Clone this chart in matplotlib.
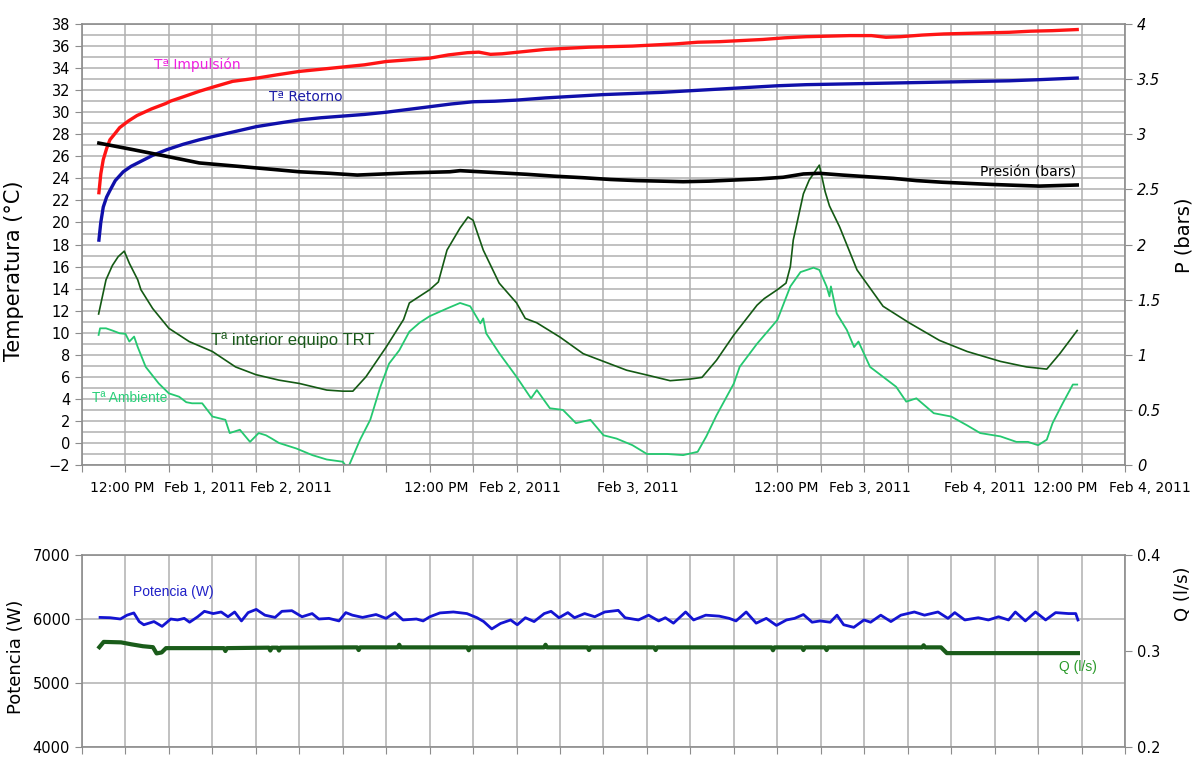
import matplotlib
matplotlib.use("Agg")
import matplotlib.pyplot as plt
import numpy as np

# hours from the start of the time axis (axis spans 72 h, grid every 3 h)
imp_h = [1.17, 1.3, 1.47, 1.7, 1.93, 2.3, 2.6, 3.2, 3.8, 4.8, 5.8, 6.1, 7.0, 8.1, 9.1, 10.4,
         12.1, 13.5, 15.0, 16.5, 18.0, 19.5, 21.0, 22.5, 24.0, 25.3, 26.6, 27.4, 28.2, 29.0,
         30.5, 32.0, 33.5, 35.0, 36.5, 38.0, 39.5, 41.0, 42.5, 44.0, 45.5, 47.0, 48.5, 50.0,
         51.5, 53.0, 54.5, 55.5, 56.5, 58.0, 59.5, 61.0, 62.5, 64.0, 65.5, 67.0, 68.7]
imp_t = [22.7, 24.4, 25.7, 26.7, 27.5, 28.1, 28.6, 29.2, 29.7, 30.3, 30.8, 31.0, 31.4, 31.9,
         32.3, 32.8, 33.1, 33.4, 33.7, 33.9, 34.1, 34.3, 34.6, 34.75, 34.9, 35.2, 35.4, 35.45,
         35.25, 35.3, 35.5, 35.7, 35.8, 35.9, 35.95, 36.0, 36.1, 36.2, 36.35, 36.4, 36.5, 36.6,
         36.75, 36.85, 36.9, 36.95, 36.95, 36.8, 36.85, 37.0, 37.1, 37.15, 37.2, 37.25, 37.35,
         37.4, 37.5]

ret_h = [1.17, 1.3, 1.47, 1.7, 1.93, 2.3, 2.85, 3.4, 4.0, 4.9, 5.85, 7.0, 8.1, 9.06, 10.4,
         12.06, 13.5, 15.0, 16.5, 18.0, 19.5, 21.0, 22.5, 24.0, 25.5, 27.0, 28.5, 30.0, 32.0,
         34.0, 36.0, 38.0, 40.0, 42.0, 44.0, 46.0, 48.0, 50.0, 52.0, 54.0, 56.0, 58.0, 60.0,
         62.0, 64.0, 66.0, 68.7]
ret_t = [18.4, 20.0, 21.4, 22.3, 22.9, 23.8, 24.6, 25.1, 25.5, 26.1, 26.6, 27.1, 27.5, 27.8,
         28.2, 28.7, 29.0, 29.3, 29.5, 29.65, 29.8, 30.0, 30.25, 30.5, 30.75, 30.95, 31.0, 31.1,
         31.3, 31.45, 31.6, 31.7, 31.8, 31.95, 32.1, 32.25, 32.4, 32.5, 32.55, 32.6, 32.65, 32.7,
         32.75, 32.8, 32.85, 32.95, 33.1]

pres_h = [1.17, 3.55, 5.85, 8.1, 11.6, 15.0, 17.1, 19.0, 20.8, 22.6, 24.0, 25.4, 26.1, 28.2,
          30.7, 32.6, 34.6, 36.5, 38.3, 40.0, 41.5, 43.3, 45.0, 46.7, 48.4, 49.8, 50.9, 52.5,
          54.2, 56.0, 57.6, 59.4, 61.1, 62.8, 64.5, 66.1, 67.4, 68.7]
pres_bar = [2.92, 2.86, 2.80, 2.74, 2.70, 2.66, 2.646, 2.63, 2.64, 2.65, 2.655, 2.66, 2.67,
            2.655, 2.637, 2.62, 2.606, 2.59, 2.58, 2.575, 2.57, 2.575, 2.585, 2.595, 2.61,
            2.64, 2.646, 2.63, 2.615, 2.60, 2.58, 2.565, 2.555, 2.545, 2.537, 2.53, 2.535, 2.54]

int_h = [1.15, 1.66, 2.1, 2.5, 2.92, 3.27, 3.85, 4.07, 4.88, 6.0, 7.4, 9.0, 10.6, 12.0, 13.6,
         15.0, 16.9, 18.0, 18.7, 19.6, 21.0, 22.2, 22.6, 24.0, 24.6, 25.2, 26.1, 26.65, 27.0,
         27.7, 28.8, 30.0, 30.6, 31.4, 33.0, 34.6, 36.0, 37.6, 39.2, 40.6, 42.0, 42.8, 43.8,
         45.0, 46.6, 47.1, 48.0, 48.6, 48.9, 49.1, 49.8, 50.2, 50.9, 51.3, 51.6, 52.3, 53.5,
         55.3, 57.1, 59.2, 61.1, 63.4, 65.2, 66.6, 67.5, 68.7]
int_t = [11.7, 14.8, 16.1, 16.9, 17.4, 16.3, 14.8, 13.9, 12.2, 10.4, 9.2, 8.3, 6.9, 6.2, 5.7,
         5.4, 4.8, 4.7, 4.7, 6.0, 8.7, 11.2, 12.7, 13.9, 14.6, 17.5, 19.5, 20.5, 20.2, 17.5,
         14.5, 12.7, 11.3, 10.9, 9.6, 8.1, 7.4, 6.6, 6.1, 5.65, 5.8, 5.95, 7.5, 9.8, 12.5, 13.1,
         13.9, 14.5, 16.0, 18.4, 22.6, 23.85, 25.2, 22.8, 21.5, 19.6, 15.7, 12.4, 10.9, 9.3,
         8.3, 7.4, 6.9, 6.7, 8.1, 10.2]

amb_h = [1.15, 1.25, 1.66, 2.1, 2.6, 3.0, 3.27, 3.6, 3.85, 4.4, 5.3, 6.0, 6.7, 7.2, 7.6, 8.3,
         9.0, 9.9, 10.2, 10.9, 11.6, 12.2, 12.7, 13.1, 13.6, 14.8, 15.9, 16.9, 18.0, 18.35,
         19.2, 19.9, 20.6, 21.2, 21.9, 22.6, 23.3, 24.0, 25.2, 26.1, 26.8, 27.5, 27.7, 27.9,
         28.8, 30.0, 31.0, 31.4, 32.3, 33.2, 34.1, 35.1, 36.0, 36.9, 38.0, 39.0, 40.4, 41.5,
         42.5, 43.1, 43.8, 45.0, 45.4, 46.6, 48.0, 48.9, 49.6, 50.5, 50.9, 51.4, 51.6, 51.7,
         52.1, 52.8, 53.3, 53.6, 54.4, 55.3, 56.2, 56.9, 57.6, 58.8, 60.0, 61.1, 62.0, 63.4,
         64.5, 65.3, 66.0, 66.6, 67.0, 67.7, 68.4, 68.7]
amb_t = [9.8, 10.4, 10.4, 10.2, 9.95, 9.9, 9.2, 9.65, 8.7, 6.9, 5.4, 4.5, 4.2, 3.7, 3.6, 3.6,
         2.4, 2.1, 0.9, 1.2, 0.1, 0.9, 0.7, 0.4, 0.0, -0.5, -1.1, -1.5, -1.7, -2.3,
         0.3, 2.1, 5.1, 7.2, 8.4, 10.1, 10.9, 11.5, 12.2, 12.7, 12.4, 10.85, 11.3, 9.95,
         8.15, 6.0, 4.05, 4.8, 3.15, 3.0, 1.8, 2.1, 0.7, 0.4, -0.2, -1.0, -1.0, -1.1,
         -0.8, 0.6, 2.5, 5.4, 6.9, 9.0, 11.15, 14.2, 15.5, 15.9, 15.7, 14.2, 13.3, 14.2,
         11.75, 10.25, 8.7, 9.2, 6.9, 6.0, 5.1, 3.75, 4.05, 2.7, 2.4, 1.6, 0.9, 0.6,
         0.1, 0.1, -0.2, 0.3, 1.8, 3.6, 5.3, 5.3]

pot_h = [1.25, 1.95, 2.65, 3.11, 3.58, 3.95, 4.27, 4.97, 5.53, 6.13, 6.60, 7.06, 7.43, 7.99,
         8.45, 9.06, 9.61, 10.08, 10.54, 11.01, 11.47, 12.03, 12.63, 13.33, 13.80, 14.49,
         15.19, 15.89, 16.35, 17.05, 17.74, 18.21, 18.67, 19.37, 20.30, 20.99, 21.60, 22.16,
         23.09, 23.55, 24.01, 24.71, 25.64, 26.57, 27.27, 27.73, 28.29, 28.89, 29.59, 30.05,
         30.61, 31.21, 31.91, 32.38, 32.93, 33.54, 34.00, 34.70, 35.40, 36.09, 37.02, 37.49,
         38.41, 39.11, 39.81, 40.27, 40.83, 41.67, 42.22, 43.06, 43.99, 44.68, 45.15, 45.85,
         46.54, 47.24, 47.94, 48.63, 49.19, 49.80, 50.40, 50.96, 51.65, 52.12, 52.58, 53.28,
         53.98, 54.44, 55.14, 55.84, 56.53, 57.46, 58.16, 59.09, 59.78, 60.25, 60.94, 61.87,
         62.57, 63.27, 63.96, 64.43, 65.12, 65.82, 66.52, 67.21, 68.10, 68.60, 68.75]
pot_w = [6025, 6020, 6000, 6060, 6095, 5960, 5910, 5960, 5885, 6000, 5985, 6010, 5950, 6035,
         6120, 6085, 6110, 6035, 6110, 5970, 6100, 6150, 6060, 6025, 6120, 6130,
         6035, 6085, 6000, 6010, 5970, 6100, 6060, 6025, 6070, 6010, 6100, 5985,
         6000, 5970, 6035, 6095, 6110, 6085, 6020, 5960, 5845, 5930, 5985, 5910,
         6020, 5960, 6085, 6120, 6020, 6100, 6020, 6085, 6035, 6110, 6135, 6020,
         5985, 6060, 5970, 6020, 5935, 6110, 5985, 6060, 6045, 6010, 5970, 6110,
         5935, 6010, 5900, 5985, 6010, 6070, 5950, 5970, 5950, 6060, 5910, 5870,
         5985, 5950, 6060, 5960, 6060, 6110, 6060, 6110, 6010, 6100, 5985, 6020,
         5985, 6035, 5985, 6110, 5970, 6110, 5985, 6100, 6085, 6085, 5985]

q_h = [1.2, 1.5, 2.7, 3.4, 4.2, 4.9, 5.15, 5.5, 5.8,
       9.8, 9.9, 10.0, 12.9, 13.0, 13.1, 13.5, 13.6, 13.7, 19.0, 19.1, 19.2,
       21.8, 21.9, 22.0, 26.6, 26.7, 26.8, 31.9, 32.0, 32.1, 34.9, 35.0, 35.1,
       39.5, 39.6, 39.7, 47.6, 47.7, 47.8, 49.7, 49.8, 49.9, 51.3, 51.4, 51.5,
       58.0, 58.1, 58.2, 59.3, 59.7, 68.75]
q_ls = [0.3040, 0.3095, 0.3090, 0.3070, 0.3050, 0.3040, 0.2975, 0.2985, 0.3030,
        0.3030, 0.3000, 0.3030, 0.3035, 0.3005, 0.3035, 0.3035, 0.3005, 0.3035,
        0.3038, 0.3010, 0.3038, 0.3038, 0.3065, 0.3038, 0.3038, 0.3008, 0.3038,
        0.3038, 0.3065, 0.3038, 0.3038, 0.3010, 0.3038, 0.3038, 0.3010, 0.3038,
        0.3038, 0.3008, 0.3038, 0.3038, 0.3010, 0.3038, 0.3038, 0.3010, 0.3038,
        0.3038, 0.3060, 0.3038, 0.3038, 0.2978, 0.2978]

date_pos = [2.76, 8.49, 14.43, 24.44, 30.24, 38.38, 48.6, 54.4, 62.3, 67.9, 73.7]
date_lbl = ["12:00 PM", "Feb 1, 2011", "Feb 2, 2011", "12:00 PM", "Feb 2, 2011", "Feb 3, 2011",
            "12:00 PM", "Feb 3, 2011", "Feb 4, 2011", "12:00 PM", "Feb 4, 2011"]

GRID = "#b0b0b0"
SPINE = "#8c8c8c"

fig = plt.figure(figsize=(12, 7.58), dpi=100)
ax = fig.add_axes([0.0683, 0.3865, 0.8692, 0.5818])
bx = fig.add_axes([0.0683, 0.0145, 0.8692, 0.2533])


def style_axes(a):
    a.set_xlim(0, 72)
    a.set_xticks(np.arange(0, 73, 3))
    a.set_xticklabels([])
    a.tick_params(axis="x", length=5, color=SPINE)
    a.tick_params(axis="y", length=5, color=SPINE, labelsize=10.5)
    a.grid(axis="x", color=GRID, lw=1.1)
    for s in a.spines.values():
        s.set_color(SPINE)
        s.set_linewidth(1.2)
    a.set_axisbelow(True)


# --- temperatures and pressure ---
style_axes(ax)
ax.set_ylim(-2, 38)
ax.set_yticks(np.arange(-2, 39, 2))
ax.set_yticks(np.arange(-2, 39, 1), minor=True)
ax.tick_params(axis="y", which="minor", length=0)
ax.grid(axis="y", which="both", color=GRID, lw=1.1)

ax.plot(imp_h, imp_t, color="#ff1414", lw=2.4)
ax.plot(ret_h, ret_t, color="#1010aa", lw=2.4)
ax.plot(int_h, int_t, color="#145a14", lw=1.2)
ax.plot(amb_h, amb_t, color="#25c870", lw=1.3)

ax.text(7.94, 34.3, "Tª Impulsión", color="#f020e0", fontsize=10, ha="center", va="center")
ax.text(15.46, 31.4, "Tª Retorno", color="#1c1ca8", fontsize=10, ha="center", va="center")
ax.text(14.53, 9.34, "Tª interior equipo TRT", color="#1a5a1a", fontsize=12,
        family="Liberation Sans", ha="center", va="center")
ax.text(3.28, 4.08, "Tª Ambiente", color="#2bd07a", fontsize=10,
        family="Liberation Sans", ha="center", va="center")
ax.text(65.3, 24.5, "Presión (bars)", color="black", fontsize=10, ha="center", va="center")

for p, t in zip(date_pos, date_lbl):
    ax.text(p, -0.052, t, transform=ax.get_xaxis_transform(), fontsize=10,
            ha="center", va="center", clip_on=False)

ax.set_ylabel("Temperatura (°C)", fontsize=15)
ax.yaxis.set_label_coords(-0.056, 0.44)

ax2 = ax.twinx()
ax2.set_ylim(0, 4)
ax2.set_yticks(np.arange(0, 4.01, 0.5))
ax2.set_yticklabels(["%g" % v for v in np.arange(0, 4.01, 0.5)], fontstyle="italic", fontsize=10.5)
ax2.tick_params(axis="y", length=5, color=SPINE)
for s in ax2.spines.values():
    s.set_visible(False)
ax2.plot(pres_h, pres_bar, color="black", lw=2.6)
ax2.set_ylabel("P (bars)", fontsize=14)
ax2.yaxis.set_label_coords(1.047, 0.52)

# --- power and flow ---
style_axes(bx)
bx.set_ylim(4000, 7000)
bx.set_yticks([4000, 5000, 6000, 7000])
bx.grid(axis="y", color=GRID, lw=1.1)
bx.plot(pot_h, pot_w, color="#1414d2", lw=2.0)
bx.text(6.32, 6417, "Potencia (W)", color="#2020c8", fontsize=10,
        family="Liberation Sans", ha="center", va="center")
bx.set_ylabel("Potencia (W)", fontsize=13)
bx.yaxis.set_label_coords(-0.055, 0.47)

bx2 = bx.twinx()
bx2.set_ylim(0.2, 0.4)
bx2.set_yticks([0.2, 0.3, 0.4])
bx2.set_yticklabels(["0.2", "0.3", "0.4"], fontsize=10.5)
bx2.tick_params(axis="y", length=5, color=SPINE)
for s in bx2.spines.values():
    s.set_visible(False)
bx2.plot(q_h, q_ls, color="#1a5c1a", lw=3.0)
bx2.text(68.75, 0.2833, "Q (l/s)", color="#2a9a2a", fontsize=10,
         family="Liberation Sans", ha="center", va="center")
bx2.set_ylabel("Q (l/s)", fontsize=13)
bx2.yaxis.set_label_coords(1.047, 0.80)

fig.savefig("out.png", dpi=100)
